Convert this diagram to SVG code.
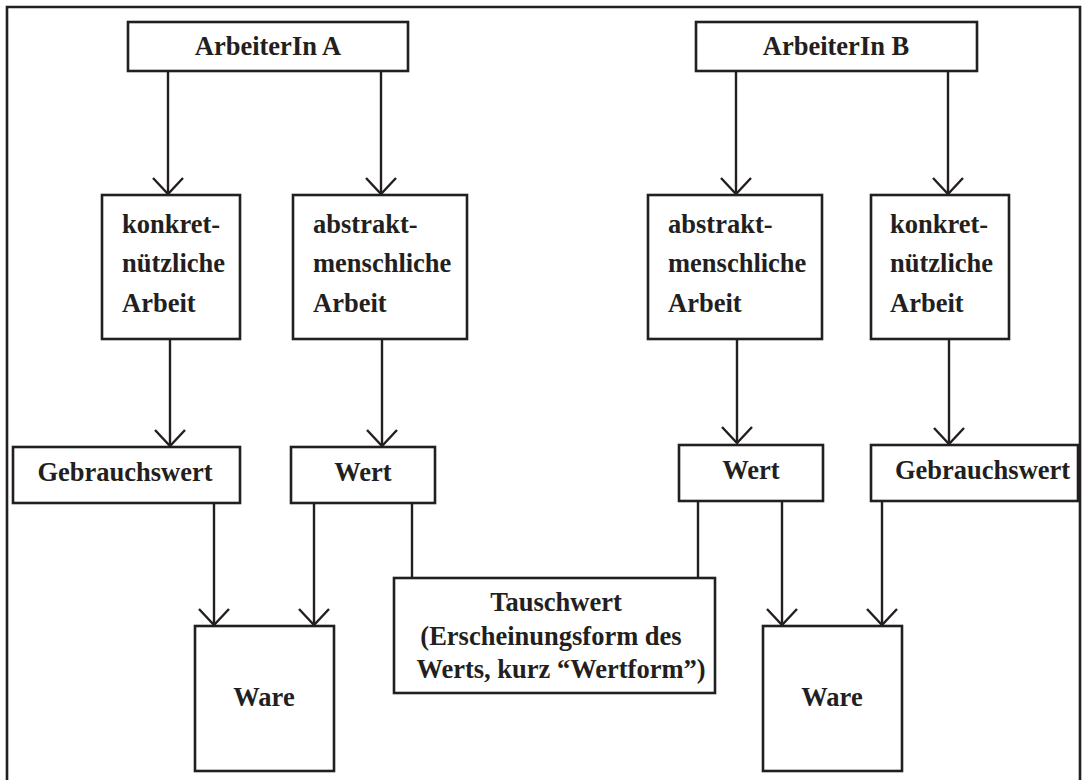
<svg xmlns="http://www.w3.org/2000/svg" width="1086" height="780" viewBox="0 0 1086 780">
<style>
.box{fill:#fff;stroke:#231f20;stroke-width:2.6}
.frame{fill:none;stroke:#231f20;stroke-width:2.6}
.ln{fill:none;stroke:#231f20;stroke-width:2.4}
text{font-family:"Liberation Serif","Times New Roman",serif;font-weight:bold;font-size:26.5px;fill:#231f20}
.c{text-anchor:middle}
</style>
<defs>
<marker id="ah" markerUnits="userSpaceOnUse" markerWidth="40" markerHeight="40" viewBox="-20 -20 40 40" refX="0" refY="0" orient="auto">
<path d="M-16,-15 L0,0 L-16,15" fill="none" stroke="#231f20" stroke-width="2.4"/>
</marker>
</defs>
<rect width="1086" height="780" fill="#fff"/>
<path class="frame" d="M7,780 V7 H1080 V780"/>

<g id="connectors">
<line class="ln" x1="168" y1="71" x2="168" y2="194" marker-end="url(#ah)"/>
<line class="ln" x1="381" y1="71" x2="381" y2="194" marker-end="url(#ah)"/>
<line class="ln" x1="736" y1="71" x2="736" y2="194" marker-end="url(#ah)"/>
<line class="ln" x1="948" y1="71" x2="948" y2="194" marker-end="url(#ah)"/>
<line class="ln" x1="170" y1="339" x2="170" y2="446" marker-end="url(#ah)"/>
<line class="ln" x1="382" y1="339" x2="382" y2="446" marker-end="url(#ah)"/>
<line class="ln" x1="737" y1="339" x2="737" y2="443" marker-end="url(#ah)"/>
<line class="ln" x1="949" y1="339" x2="949" y2="444" marker-end="url(#ah)"/>
<line class="ln" x1="214" y1="503" x2="214" y2="625" marker-end="url(#ah)"/>
<line class="ln" x1="314" y1="503" x2="314" y2="625" marker-end="url(#ah)"/>
<line class="ln" x1="412" y1="503" x2="412" y2="578"/>
<line class="ln" x1="698" y1="501" x2="698" y2="578"/>
<line class="ln" x1="782" y1="501" x2="782" y2="625" marker-end="url(#ah)"/>
<line class="ln" x1="882" y1="501" x2="882" y2="625" marker-end="url(#ah)"/>
</g>

<g id="arbeiterin-a">
<rect class="box" x="128" y="22" width="280" height="49"/>
<text class="c" x="268" y="55">ArbeiterIn A</text>
</g>
<g id="arbeiterin-b">
<rect class="box" x="696" y="22" width="281" height="49"/>
<text class="c" x="836" y="55">ArbeiterIn B</text>
</g>

<g id="konkret-a">
<rect class="box" x="102" y="195" width="138" height="144"/>
<text x="122" y="233">konkret-</text>
<text x="122" y="272">nützliche</text>
<text x="122" y="312">Arbeit</text>
</g>
<g id="abstrakt-a">
<rect class="box" x="293" y="195" width="174" height="144"/>
<text x="313" y="233">abstrakt-</text>
<text x="313" y="272">menschliche</text>
<text x="313" y="312">Arbeit</text>
</g>
<g id="abstrakt-b">
<rect class="box" x="648" y="195" width="174" height="144"/>
<text x="668" y="233">abstrakt-</text>
<text x="668" y="272">menschliche</text>
<text x="668" y="312">Arbeit</text>
</g>
<g id="konkret-b">
<rect class="box" x="871" y="195" width="138" height="144"/>
<text x="890" y="233">konkret-</text>
<text x="890" y="272">nützliche</text>
<text x="890" y="312">Arbeit</text>
</g>

<g id="gebrauchswert-a">
<rect class="box" x="13" y="447" width="227" height="56"/>
<text class="c" x="125" y="481">Gebrauchswert</text>
</g>
<g id="wert-a">
<rect class="box" x="291" y="447" width="144" height="56"/>
<text class="c" x="363" y="481">Wert</text>
</g>
<g id="wert-b">
<rect class="box" x="679" y="445" width="144" height="56"/>
<text class="c" x="751" y="479">Wert</text>
</g>
<g id="gebrauchswert-b">
<rect class="box" x="871" y="445" width="207" height="56"/>
<text x="895" y="479">Gebrauchswert</text>
</g>

<g id="tauschwert">
<rect class="box" x="394" y="578" width="321" height="115"/>
<text class="c" x="556" y="611">Tauschwert</text>
<text class="c" x="551" y="645">(Erscheinungsform des</text>
<text class="c" x="561" y="678">Werts, kurz “Wertform”)</text>
</g>

<g id="ware-a">
<rect class="box" x="195" y="626" width="139" height="145"/>
<text class="c" x="264" y="706">Ware</text>
</g>
<g id="ware-b">
<rect class="box" x="763" y="626" width="139" height="145"/>
<text class="c" x="832" y="706">Ware</text>
</g>
</svg>
